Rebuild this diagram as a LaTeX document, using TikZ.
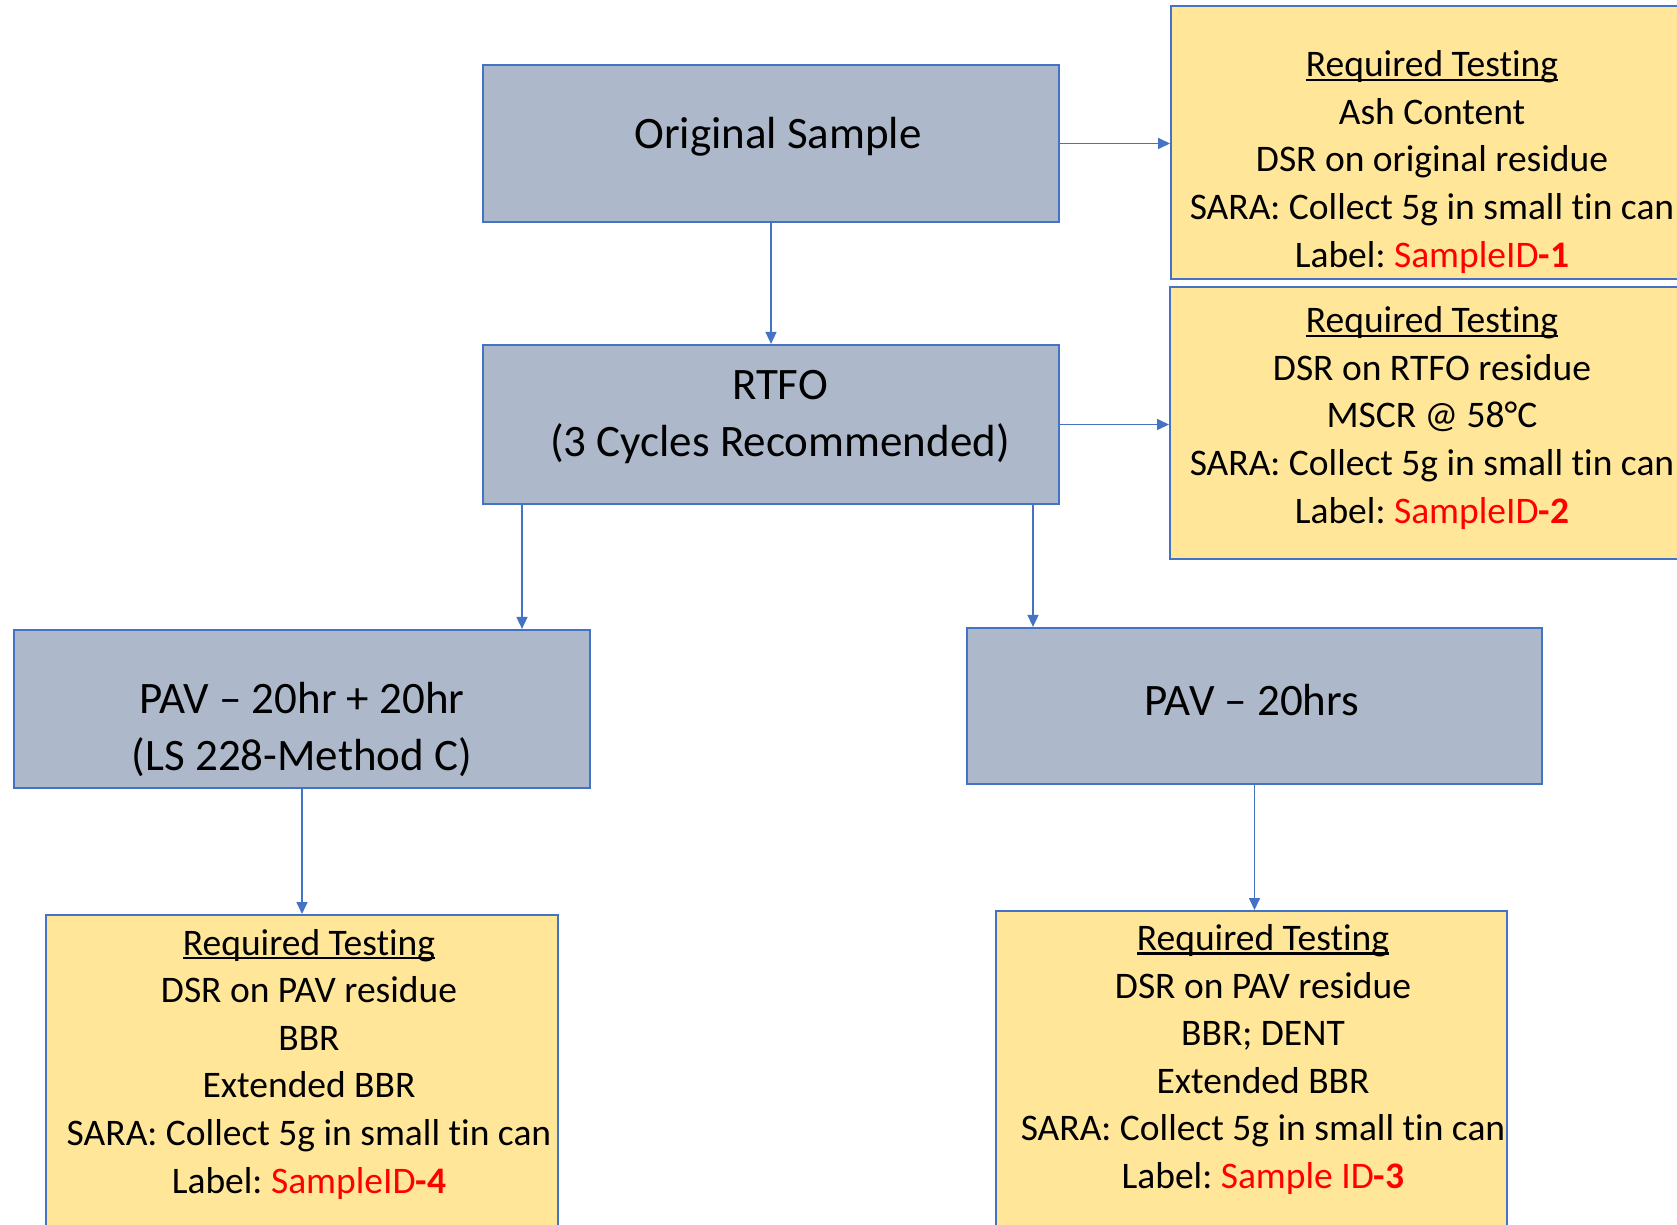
\documentclass[tikz,border=0pt]{standalone}
\usepackage{fontspec}
\setmainfont[Ligatures={NoCommon}]{Carlito}
\usetikzlibrary{arrows.meta}
\definecolor{bgrey}{HTML}{ADB9CA}
\definecolor{byel}{HTML}{FFE699}
\definecolor{bline}{HTML}{4472C4}
\definecolor{bred}{HTML}{FF0000}
\newcommand{\myul}[1]{\setbox0\hbox{#1}\rlap{\rule[-0.11em]{\wd0}{0.06em}}\box0}
\newcommand{\lbl}[2]{Label:\ \textcolor{bred}{#1\textbf{-#2}}}
\tikzset{
  greybox/.style={draw=bline, line width=1.1pt, fill=bgrey, inner sep=0pt},
  yelbox/.style={draw=bline, line width=1pt, fill=byel, inner sep=0pt},
  bigtxt/.style={align=center, inner sep=0pt, font=\fontsize{22.5}{28.5}\selectfont},
  smltxt/.style={align=center, inner sep=0pt, font=\fontsize{18.75}{23.8}\selectfont},
  arr/.style={draw=bline, line width=0.8pt, -{Triangle[length=6pt,width=5.5pt]}}
}
\begin{document}
\begin{tikzpicture}[x=0.5pt,y=-0.5pt]
\useasboundingbox (0,0) rectangle (1677,1225);
\clip (0,0) rectangle (1677,1225);
% boxes
\node[greybox, minimum width=288pt, minimum height=78.5pt] (orig) at (771,143.5) {};
\node[greybox, minimum width=288pt, minimum height=79.5pt] (rtfo) at (771,424.5) {};
\node[greybox, minimum width=288pt, minimum height=79pt] (pavl) at (302,709) {};
\node[greybox, minimum width=287.5pt, minimum height=78pt] (pavr) at (1254.5,706) {};
\node[yelbox, minimum width=261pt, minimum height=136.5pt] (box1) at (1432,142.5) {};
\node[yelbox, minimum width=262pt, minimum height=136pt] (box2) at (1432,423) {};
\node[yelbox, minimum width=256pt, minimum height=162.5pt] (box4) at (302,1077.5) {};
\node[yelbox, minimum width=255.5pt, minimum height=164.5pt] (box3) at (1251.5,1075.5) {};
% texts
\node[bigtxt] (torig) at (778,137) {Original Sample};
\node[bigtxt] (trtfo) at (780,417) {RTFO\\(3 Cycles Recommended)};
\node[bigtxt] (tpavl) at (302,729) {PAV – 20hr + 20hr\\(LS 228-Method C)};
\node[bigtxt] (tpavr) at (1252,700) {PAV – 20hrs};
\node[smltxt] (t1) at (1432,162) {\myul{Required Testing}\\Ash Content\\DSR on original residue\\SARA: Collect 5g in small tin can\\\lbl{SampleID}{1}};
\node[smltxt] (t2) at (1432,418) {\myul{Required Testing}\\DSR on RTFO residue\\MSCR @ 58°C\\SARA: Collect 5g in small tin can\\\lbl{SampleID}{2}};
\node[smltxt] (t4) at (309,1064) {\myul{Required Testing}\\DSR on PAV residue\\BBR\\Extended BBR\\SARA: Collect 5g in small tin can\\\lbl{SampleID}{4}};
\node[smltxt] (t3) at (1263,1059.5) {\myul{Required Testing}\\DSR on PAV residue\\BBR; DENT\\Extended BBR\\SARA: Collect 5g in small tin can\\\lbl{Sample ID}{3}};
% connectors
\draw[arr] (orig.south) -- (rtfo.north);
\draw[arr] (orig.east) -- (orig.east -| box1.west);
\draw[arr] (rtfo.east) -- (rtfo.east -| box2.west);
\draw[arr] (522,0 |- rtfo.south) -- (522,0 |- pavl.north);
\draw[arr] (1033,0 |- rtfo.south) -- (1033,0 |- pavr.north);
\draw[arr] (pavl.south) -- (pavl.south |- box4.north);
\draw[arr] (pavr.south) -- (pavr.south |- box3.north);
\end{tikzpicture}
\end{document}
